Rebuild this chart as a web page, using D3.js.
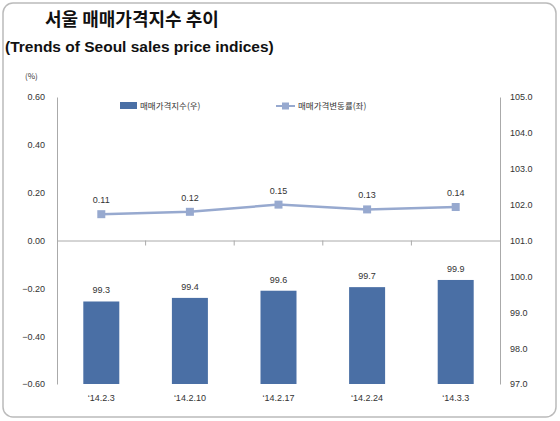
<!DOCTYPE html>
<html><head><meta charset="utf-8">
<script src="https://cdn.jsdelivr.net/npm/d3@7"></script>
<style>body{margin:0;background:#fff}text{font-family:"Noto Sans CJK KR","Noto Sans",sans-serif}</style>
</head><body><svg id="c" width="560" height="421"></svg>
<script>
const categories = ["‘14.2.3","‘14.2.10","‘14.2.17","‘14.2.24","‘14.3.3"];
const indexValues = [99.3,99.4,99.6,99.7,99.9];
const rateValues = [0.11,0.12,0.15,0.13,0.14];
const leftTicks = [0.6,0.4,0.2,0,-0.2,-0.4,-0.6];
const rightTicks = [105,104,103,102,101,100,99,98,97];

const svg = d3.select("#c");
svg.append("rect").attr("x",3).attr("y",3).attr("width",553).attr("height",414).attr("rx",10)
  .attr("fill","#fff").attr("stroke","#bbb").attr("stroke-width",1.5);
svg.append("text").attr("x",45).attr("y",26).attr("font-size",18).attr("font-weight","bold").attr("fill","#111").text("서울 매매가격지수 추이");
svg.append("text").attr("x",5).attr("y",52).attr("font-size",15.5).attr("font-weight","bold").attr("fill","#111")
  .style("font-family","'Liberation Sans',sans-serif").text("(Trends of Seoul sales price indices)");
svg.append("text").attr("x",25).attr("y",79).attr("font-size",8).attr("fill","#333").text("(%)");

const L=57,R=500,T=97,B=384;
const x = d3.scaleBand().domain(categories).range([L,R]);
const yL = d3.scaleLinear().domain([-0.6,0.6]).range([B,T]);
const yR = d3.scaleLinear().domain([97,105]).range([B,T]);
const ax="#aaa";
const fs=9;
const lA = svg.append("g").attr("transform",`translate(${L},0)`).call(d3.axisLeft(yL).tickValues(leftTicks).tickFormat(d3.format(".2f")).tickSize(0).tickPadding(12));
const rA = svg.append("g").attr("transform",`translate(${R},0)`).call(d3.axisRight(yR).tickValues(rightTicks).tickFormat(d3.format(".1f")).tickSize(0).tickPadding(10));
[lA,rA].forEach(g=>{g.select(".domain").attr("stroke",ax);g.selectAll("text").attr("font-size",fs).attr("fill","#333").style("font-family","'Liberation Sans',sans-serif");});
// zero axis with ticks
const xA = svg.append("g").attr("transform",`translate(0,${yL(0)})`).call(d3.axisBottom(x).tickSize(0).tickFormat(""));
xA.select(".domain").attr("stroke",ax);
svg.selectAll(".bt").data(categories.slice(1)).join("line").attr("x1",d=>x(d)).attr("x2",d=>x(d))
  .attr("y1",yL(0)).attr("y2",yL(0)+5).attr("stroke",ax);
// category labels
svg.selectAll(".cl").data(categories).join("text").attr("x",d=>x(d)+x.bandwidth()/2).attr("y",401)
  .attr("text-anchor","middle").attr("font-size",fs).attr("fill","#333").style("font-family","'Liberation Sans',sans-serif").text(d=>d);
// bars
const bw=36;
svg.selectAll(".bar").data(indexValues).join("rect").attr("x",(d,i)=>x(categories[i])+x.bandwidth()/2-bw/2)
  .attr("y",d=>yR(d)).attr("width",bw).attr("height",d=>B-yR(d)).attr("fill","#4a6fa5");
svg.selectAll(".bl").data(indexValues).join("text").attr("x",(d,i)=>x(categories[i])+x.bandwidth()/2)
  .attr("y",d=>yR(d)-8).attr("text-anchor","middle").attr("font-size",fs).attr("fill","#333").style("font-family","'Liberation Sans',sans-serif").text(d=>d.toFixed(1));
// line
const lc="#97a9cf";
const line=d3.line().x((d,i)=>x(categories[i])+x.bandwidth()/2).y(d=>yL(d));
svg.append("path").datum(rateValues).attr("d",line).attr("fill","none").attr("stroke",lc).attr("stroke-width",2.5);
svg.selectAll(".m").data(rateValues).join("rect").attr("x",(d,i)=>x(categories[i])+x.bandwidth()/2-4).attr("y",d=>yL(d)-4)
  .attr("width",8).attr("height",8).attr("fill",lc);
svg.selectAll(".ml").data(rateValues).join("text").attr("x",(d,i)=>x(categories[i])+x.bandwidth()/2)
  .attr("y",d=>yL(d)-11).attr("text-anchor","middle").attr("font-size",fs).attr("fill","#333").style("font-family","'Liberation Sans',sans-serif").text(d=>d.toFixed(2));
// legend
svg.append("rect").attr("x",120).attr("y",102).attr("width",17).attr("height",7).attr("fill","#4a6fa5");
svg.append("text").attr("x",140).attr("y",109).attr("font-size",8.5).attr("fill","#333").text("매매가격지수(우)");
svg.append("line").attr("x1",276).attr("x2",295).attr("y1",106).attr("y2",106).attr("stroke",lc).attr("stroke-width",2);
svg.append("rect").attr("x",282).attr("y",102.5).attr("width",7).attr("height",7).attr("fill",lc);
svg.append("text").attr("x",298).attr("y",109).attr("font-size",8.5).attr("fill","#333").text("매매가격변동률(좌)");
</script></body></html>
